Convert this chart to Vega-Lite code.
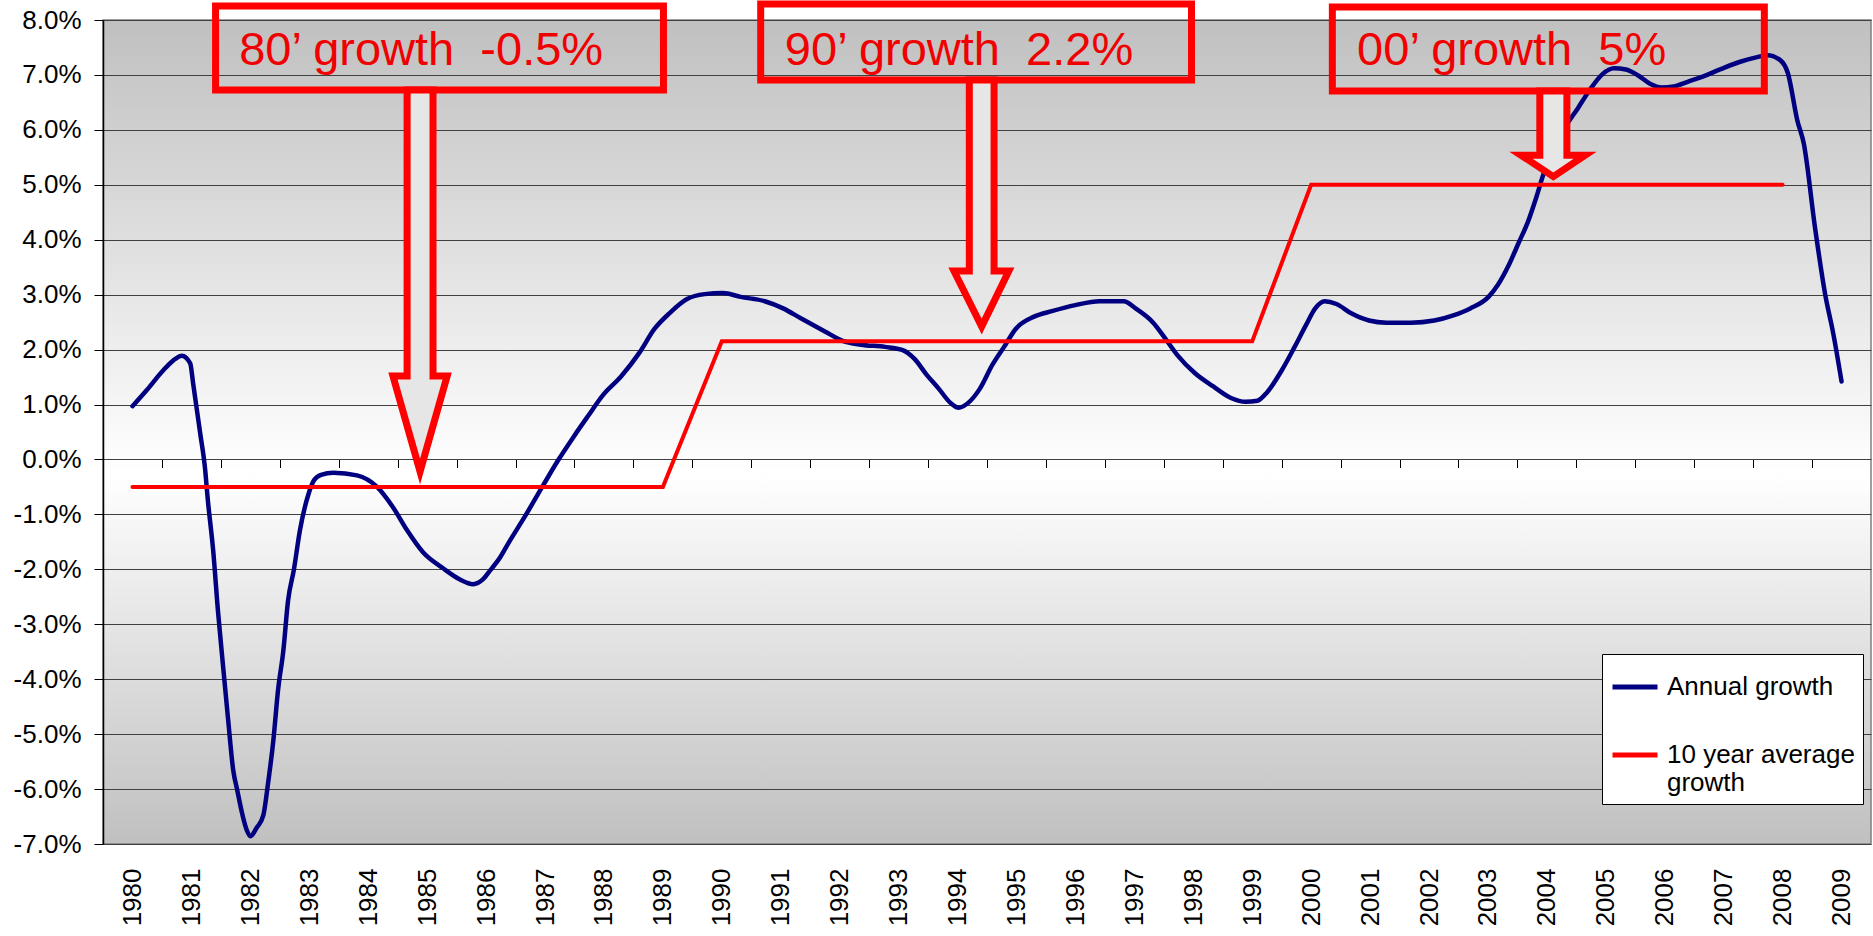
{
  "$schema": "https://vega.github.io/schema/vega-lite/v6.json",
  "width": 1768,
  "height": 824,
  "autosize": {"type": "none"},
  "padding": {"left": 103, "top": 20, "right": 2, "bottom": 92},
  "background": "#ffffff",
  "view": {
    "fill": {"gradient": "linear", "x1": 0, "y1": 0, "x2": 0, "y2": 1,
      "stops": [{"offset": 0, "color": "#c0c0c0"}, {"offset": 0.55, "color": "#ffffff"}, {"offset": 1, "color": "#c0c0c0"}]},
    "stroke": "#808080",
    "strokeWidth": 1.5
  },
  "config": {
    "font": "Liberation Sans",
    "axisY": {"labelFontSize": 26, "labelColor": "#000000", "tickSize": 9, "tickColor": "#000000", "tickWidth": 1,
      "labelPadding": 13, "domainColor": "#000000", "domainWidth": 1.5, "grid": true, "gridColor": "#404040",
      "gridWidth": 1, "title": null, "labelOverlap": false}
  },
  "datasets": {
    "series": [
      {"s": "Annual growth", "year": 1980.00, "v": 0.97},
      {"s": "Annual growth", "year": 1980.24, "v": 1.26},
      {"s": "Annual growth", "year": 1980.52, "v": 1.62},
      {"s": "Annual growth", "year": 1980.69, "v": 1.80},
      {"s": "Annual growth", "year": 1980.84, "v": 1.89},
      {"s": "Annual growth", "year": 1980.98, "v": 1.75},
      {"s": "Annual growth", "year": 1981.03, "v": 1.38},
      {"s": "Annual growth", "year": 1981.10, "v": 0.85},
      {"s": "Annual growth", "year": 1981.15, "v": 0.47},
      {"s": "Annual growth", "year": 1981.23, "v": -0.15},
      {"s": "Annual growth", "year": 1981.28, "v": -0.75},
      {"s": "Annual growth", "year": 1981.37, "v": -1.66},
      {"s": "Annual growth", "year": 1981.45, "v": -2.75},
      {"s": "Annual growth", "year": 1981.54, "v": -3.79},
      {"s": "Annual growth", "year": 1981.62, "v": -4.70},
      {"s": "Annual growth", "year": 1981.71, "v": -5.66},
      {"s": "Annual growth", "year": 1981.78, "v": -6.03},
      {"s": "Annual growth", "year": 1981.86, "v": -6.44},
      {"s": "Annual growth", "year": 1981.94, "v": -6.75},
      {"s": "Annual growth", "year": 1982.00, "v": -6.86},
      {"s": "Annual growth", "year": 1982.11, "v": -6.70},
      {"s": "Annual growth", "year": 1982.22, "v": -6.48},
      {"s": "Annual growth", "year": 1982.30, "v": -5.90},
      {"s": "Annual growth", "year": 1982.39, "v": -5.12},
      {"s": "Annual growth", "year": 1982.47, "v": -4.20},
      {"s": "Annual growth", "year": 1982.56, "v": -3.48},
      {"s": "Annual growth", "year": 1982.64, "v": -2.57},
      {"s": "Annual growth", "year": 1982.74, "v": -2.00},
      {"s": "Annual growth", "year": 1982.84, "v": -1.30},
      {"s": "Annual growth", "year": 1982.99, "v": -0.62},
      {"s": "Annual growth", "year": 1983.08, "v": -0.38},
      {"s": "Annual growth", "year": 1983.20, "v": -0.28},
      {"s": "Annual growth", "year": 1983.41, "v": -0.24},
      {"s": "Annual growth", "year": 1983.81, "v": -0.29},
      {"s": "Annual growth", "year": 1984.15, "v": -0.50},
      {"s": "Annual growth", "year": 1984.42, "v": -0.87},
      {"s": "Annual growth", "year": 1984.66, "v": -1.29},
      {"s": "Annual growth", "year": 1984.93, "v": -1.69},
      {"s": "Annual growth", "year": 1985.27, "v": -1.98},
      {"s": "Annual growth", "year": 1985.55, "v": -2.18},
      {"s": "Annual growth", "year": 1985.78, "v": -2.27},
      {"s": "Annual growth", "year": 1985.95, "v": -2.18},
      {"s": "Annual growth", "year": 1986.07, "v": -2.02},
      {"s": "Annual growth", "year": 1986.24, "v": -1.78},
      {"s": "Annual growth", "year": 1986.37, "v": -1.54},
      {"s": "Annual growth", "year": 1986.68, "v": -1.00},
      {"s": "Annual growth", "year": 1986.98, "v": -0.45},
      {"s": "Annual growth", "year": 1987.22, "v": -0.02},
      {"s": "Annual growth", "year": 1987.49, "v": 0.42},
      {"s": "Annual growth", "year": 1987.73, "v": 0.79},
      {"s": "Annual growth", "year": 1987.99, "v": 1.18},
      {"s": "Annual growth", "year": 1988.29, "v": 1.51},
      {"s": "Annual growth", "year": 1988.60, "v": 1.94},
      {"s": "Annual growth", "year": 1988.86, "v": 2.38},
      {"s": "Annual growth", "year": 1989.11, "v": 2.66},
      {"s": "Annual growth", "year": 1989.41, "v": 2.92},
      {"s": "Annual growth", "year": 1989.71, "v": 3.01},
      {"s": "Annual growth", "year": 1990.02, "v": 3.03},
      {"s": "Annual growth", "year": 1990.32, "v": 2.96},
      {"s": "Annual growth", "year": 1990.73, "v": 2.88},
      {"s": "Annual growth", "year": 1991.04, "v": 2.75},
      {"s": "Annual growth", "year": 1991.34, "v": 2.57},
      {"s": "Annual growth", "year": 1991.75, "v": 2.33},
      {"s": "Annual growth", "year": 1992.05, "v": 2.16},
      {"s": "Annual growth", "year": 1992.36, "v": 2.09},
      {"s": "Annual growth", "year": 1992.77, "v": 2.05},
      {"s": "Annual growth", "year": 1993.07, "v": 1.99},
      {"s": "Annual growth", "year": 1993.27, "v": 1.83},
      {"s": "Annual growth", "year": 1993.47, "v": 1.55},
      {"s": "Annual growth", "year": 1993.68, "v": 1.29},
      {"s": "Annual growth", "year": 1993.88, "v": 1.03},
      {"s": "Annual growth", "year": 1994.02, "v": 0.94},
      {"s": "Annual growth", "year": 1994.18, "v": 1.03},
      {"s": "Annual growth", "year": 1994.38, "v": 1.29},
      {"s": "Annual growth", "year": 1994.59, "v": 1.72},
      {"s": "Annual growth", "year": 1994.79, "v": 2.05},
      {"s": "Annual growth", "year": 1994.99, "v": 2.38},
      {"s": "Annual growth", "year": 1995.30, "v": 2.60},
      {"s": "Annual growth", "year": 1995.60, "v": 2.70},
      {"s": "Annual growth", "year": 1996.00, "v": 2.81},
      {"s": "Annual growth", "year": 1996.41, "v": 2.88},
      {"s": "Annual growth", "year": 1996.82, "v": 2.88},
      {"s": "Annual growth", "year": 1997.02, "v": 2.75},
      {"s": "Annual growth", "year": 1997.32, "v": 2.49},
      {"s": "Annual growth", "year": 1997.52, "v": 2.21},
      {"s": "Annual growth", "year": 1997.73, "v": 1.90},
      {"s": "Annual growth", "year": 1998.03, "v": 1.57},
      {"s": "Annual growth", "year": 1998.34, "v": 1.33},
      {"s": "Annual growth", "year": 1998.64, "v": 1.12},
      {"s": "Annual growth", "year": 1998.89, "v": 1.05},
      {"s": "Annual growth", "year": 1999.09, "v": 1.07},
      {"s": "Annual growth", "year": 1999.25, "v": 1.22},
      {"s": "Annual growth", "year": 1999.50, "v": 1.62},
      {"s": "Annual growth", "year": 1999.72, "v": 2.05},
      {"s": "Annual growth", "year": 1999.91, "v": 2.44},
      {"s": "Annual growth", "year": 2000.07, "v": 2.75},
      {"s": "Annual growth", "year": 2000.23, "v": 2.88},
      {"s": "Annual growth", "year": 2000.43, "v": 2.83},
      {"s": "Annual growth", "year": 2000.68, "v": 2.66},
      {"s": "Annual growth", "year": 2000.98, "v": 2.53},
      {"s": "Annual growth", "year": 2001.28, "v": 2.49},
      {"s": "Annual growth", "year": 2001.69, "v": 2.49},
      {"s": "Annual growth", "year": 2002.09, "v": 2.53},
      {"s": "Annual growth", "year": 2002.40, "v": 2.62},
      {"s": "Annual growth", "year": 2002.70, "v": 2.75},
      {"s": "Annual growth", "year": 2003.01, "v": 2.96},
      {"s": "Annual growth", "year": 2003.17, "v": 3.18},
      {"s": "Annual growth", "year": 2003.35, "v": 3.53},
      {"s": "Annual growth", "year": 2003.52, "v": 3.94},
      {"s": "Annual growth", "year": 2003.68, "v": 4.33},
      {"s": "Annual growth", "year": 2003.82, "v": 4.77},
      {"s": "Annual growth", "year": 2003.96, "v": 5.25},
      {"s": "Annual growth", "year": 2004.12, "v": 5.64},
      {"s": "Annual growth", "year": 2004.29, "v": 6.01},
      {"s": "Annual growth", "year": 2004.53, "v": 6.40},
      {"s": "Annual growth", "year": 2004.73, "v": 6.73},
      {"s": "Annual growth", "year": 2004.94, "v": 7.01},
      {"s": "Annual growth", "year": 2005.14, "v": 7.12},
      {"s": "Annual growth", "year": 2005.34, "v": 7.10},
      {"s": "Annual growth", "year": 2005.55, "v": 6.99},
      {"s": "Annual growth", "year": 2005.75, "v": 6.84},
      {"s": "Annual growth", "year": 2005.95, "v": 6.77},
      {"s": "Annual growth", "year": 2006.15, "v": 6.79},
      {"s": "Annual growth", "year": 2006.40, "v": 6.88},
      {"s": "Annual growth", "year": 2006.62, "v": 6.96},
      {"s": "Annual growth", "year": 2006.94, "v": 7.10},
      {"s": "Annual growth", "year": 2007.28, "v": 7.24},
      {"s": "Annual growth", "year": 2007.55, "v": 7.32},
      {"s": "Annual growth", "year": 2007.74, "v": 7.36},
      {"s": "Annual growth", "year": 2007.96, "v": 7.27},
      {"s": "Annual growth", "year": 2008.09, "v": 7.03},
      {"s": "Annual growth", "year": 2008.25, "v": 6.17},
      {"s": "Annual growth", "year": 2008.36, "v": 5.75},
      {"s": "Annual growth", "year": 2008.55, "v": 4.22},
      {"s": "Annual growth", "year": 2008.72, "v": 3.02},
      {"s": "Annual growth", "year": 2008.86, "v": 2.29},
      {"s": "Annual growth", "year": 2009.00, "v": 1.42},
      {"s": "10 year average growth", "year": 1980, "v": -0.5},
      {"s": "10 year average growth", "year": 1981, "v": -0.5},
      {"s": "10 year average growth", "year": 1982, "v": -0.5},
      {"s": "10 year average growth", "year": 1983, "v": -0.5},
      {"s": "10 year average growth", "year": 1984, "v": -0.5},
      {"s": "10 year average growth", "year": 1985, "v": -0.5},
      {"s": "10 year average growth", "year": 1986, "v": -0.5},
      {"s": "10 year average growth", "year": 1987, "v": -0.5},
      {"s": "10 year average growth", "year": 1988, "v": -0.5},
      {"s": "10 year average growth", "year": 1989, "v": -0.5},
      {"s": "10 year average growth", "year": 1990, "v": 2.15},
      {"s": "10 year average growth", "year": 1991, "v": 2.15},
      {"s": "10 year average growth", "year": 1992, "v": 2.15},
      {"s": "10 year average growth", "year": 1993, "v": 2.15},
      {"s": "10 year average growth", "year": 1994, "v": 2.15},
      {"s": "10 year average growth", "year": 1995, "v": 2.15},
      {"s": "10 year average growth", "year": 1996, "v": 2.15},
      {"s": "10 year average growth", "year": 1997, "v": 2.15},
      {"s": "10 year average growth", "year": 1998, "v": 2.15},
      {"s": "10 year average growth", "year": 1999, "v": 2.15},
      {"s": "10 year average growth", "year": 2000, "v": 5.0},
      {"s": "10 year average growth", "year": 2001, "v": 5.0},
      {"s": "10 year average growth", "year": 2002, "v": 5.0},
      {"s": "10 year average growth", "year": 2003, "v": 5.0},
      {"s": "10 year average growth", "year": 2004, "v": 5.0},
      {"s": "10 year average growth", "year": 2005, "v": 5.0},
      {"s": "10 year average growth", "year": 2006, "v": 5.0},
      {"s": "10 year average growth", "year": 2007, "v": 5.0},
      {"s": "10 year average growth", "year": 2008, "v": 5.0}
    ]
  },
  "data": {"name": "series"},
  "resolve": {"axis": {"x": "independent"}},
  "layer": [
    {
      "transform": [{"filter": "datum.s == 'Annual growth'"}],
      "mark": {"type": "line", "interpolate": "monotone", "strokeWidth": 4.5, "strokeCap": "round", "strokeJoin": "round"},
      "encoding": {
        "x": {"field": "year", "type": "quantitative",
          "scale": {"domain": [1979.5, 2009.5], "nice": false, "zero": false},
          "axis": {"orient": "bottom", "values": [1980,1981,1982,1983,1984,1985,1986,1987,1988,1989,1990,1991,1992,1993,1994,1995,1996,1997,1998,1999,2000,2001,2002,2003,2004,2005,2006,2007,2008,2009],
            "format": "d", "labelAngle": -90, "labelFontSize": 26, "labelColor": "#000000", "ticks": false, "tickSize": 0,
            "domain": false, "grid": false, "labelPadding": 24, "title": null, "labelOverlap": false}},
        "y": {"field": "v", "type": "quantitative",
          "scale": {"domain": [-7, 8], "nice": false, "zero": false},
          "axis": {"values": [-7,-6,-5,-4,-3,-2,-1,0,1,2,3,4,5,6,7,8],
            "labelExpr": "replace(format(datum.value, '.1f'), '−', '-') + '%'",
            "labelFontSize": 26, "labelColor": "#000000", "tickSize": 9, "tickColor": "#000000", "tickWidth": 1,
            "labelPadding": 13, "domainColor": "#000000", "domainWidth": 1.5, "grid": true, "gridColor": "#404040",
            "gridWidth": 1, "title": null, "labelOverlap": false}},
        "color": {"field": "s", "type": "nominal",
          "scale": {"domain": ["Annual growth", "10 year average growth"], "range": ["#000080", "#ff0000"]},
          "legend": {"title": null, "orient": "none", "legendX": 1499, "legendY": 634,
            "fillColor": "#ffffff", "strokeColor": "#000000", "padding": 8, "labelFontSize": 26, "labelColor": "#000000",
            "symbolType": "stroke", "symbolSize": 2025, "symbolStrokeWidth": 5, "labelOffset": 7, "rowPadding": 30,
            "labelLimit": 400,
            "labelExpr": "datum.label == '10 year average growth' ? ['10 year average', 'growth'] : datum.label"}}
      }
    },
    {
      "transform": [{"filter": "datum.s == '10 year average growth'"}],
      "mark": {"type": "line", "strokeWidth": 4, "strokeCap": "round"},
      "encoding": {
        "x": {"field": "year", "type": "quantitative",
          "scale": {"domain": [1979.5, 2009.5], "nice": false, "zero": false},
          "axis": {"orient": "bottom", "offset": -384.5,
            "values": [1980.5,1981.5,1982.5,1983.5,1984.5,1985.5,1986.5,1987.5,1988.5,1989.5,1990.5,1991.5,1992.5,1993.5,1994.5,1995.5,1996.5,1997.5,1998.5,1999.5,2000.5,2001.5,2002.5,2003.5,2004.5,2005.5,2006.5,2007.5,2008.5],
            "labels": false, "domain": false, "grid": false, "ticks": true, "tickSize": 8, "tickColor": "#000000", "tickWidth": 1, "title": null}},
        "y": {"field": "v", "type": "quantitative", "scale": {"domain": [-7, 8], "nice": false, "zero": false}},
        "color": {"field": "s", "type": "nominal",
          "scale": {"domain": ["Annual growth", "10 year average growth"], "range": ["#000080", "#ff0000"]}}
      }
    },
    {
      "data": {"values": [
        {"name": "80s", "bx": 1981.41, "bx2": 1989.01, "by": 8.256, "by2": 6.727},
        {"name": "90s", "bx": 1990.66, "bx2": 1997.97, "by": 8.292, "by2": 6.909},
        {"name": "00s", "bx": 2000.36, "bx2": 2007.69, "by": 8.238, "by2": 6.709}
      ]},
      "mark": {"type": "rect", "fill": "transparent", "stroke": "#ff0000", "strokeWidth": 7, "strokeJoin": "miter"},
      "encoding": {
        "x": {"field": "bx", "type": "quantitative", "scale": {"domain": [1979.5, 2009.5], "nice": false, "zero": false}, "axis": null},
        "x2": {"field": "bx2"},
        "y": {"field": "by", "type": "quantitative", "scale": {"domain": [-7, 8], "nice": false, "zero": false}},
        "y2": {"field": "by2"}
      }
    },
    {
      "data": {"values": [
        {"arrow": "80s", "k": 1, "ax": 1984.66, "ay": 6.727},
        {"arrow": "80s", "k": 2, "ax": 1984.66, "ay": 1.52},
        {"arrow": "80s", "k": 3, "ax": 1984.42, "ay": 1.52},
        {"arrow": "80s", "k": 4, "ax": 1984.88, "ay": -0.22},
        {"arrow": "80s", "k": 5, "ax": 1985.34, "ay": 1.52},
        {"arrow": "80s", "k": 6, "ax": 1985.10, "ay": 1.52},
        {"arrow": "80s", "k": 7, "ax": 1985.10, "ay": 6.727},
        {"arrow": "90s", "k": 1, "ax": 1994.20, "ay": 6.909},
        {"arrow": "90s", "k": 2, "ax": 1994.20, "ay": 3.43},
        {"arrow": "90s", "k": 3, "ax": 1993.94, "ay": 3.43},
        {"arrow": "90s", "k": 4, "ax": 1994.41, "ay": 2.42},
        {"arrow": "90s", "k": 5, "ax": 1994.87, "ay": 3.43},
        {"arrow": "90s", "k": 6, "ax": 1994.62, "ay": 3.43},
        {"arrow": "90s", "k": 7, "ax": 1994.62, "ay": 6.909},
        {"arrow": "00s", "k": 1, "ax": 2003.88, "ay": 6.709},
        {"arrow": "00s", "k": 2, "ax": 2003.88, "ay": 5.54},
        {"arrow": "00s", "k": 3, "ax": 2003.56, "ay": 5.54},
        {"arrow": "00s", "k": 4, "ax": 2004.11, "ay": 5.15},
        {"arrow": "00s", "k": 5, "ax": 2004.65, "ay": 5.54},
        {"arrow": "00s", "k": 6, "ax": 2004.34, "ay": 5.54},
        {"arrow": "00s", "k": 7, "ax": 2004.34, "ay": 6.709}
      ]},
      "mark": {"type": "line", "interpolate": "linear-closed", "fill": "#e6e6e6", "stroke": "#ff0000", "strokeWidth": 7, "strokeJoin": "miter", "strokeMiterLimit": 20},
      "encoding": {
        "x": {"field": "ax", "type": "quantitative", "scale": {"domain": [1979.5, 2009.5], "nice": false, "zero": false}, "axis": null},
        "y": {"field": "ay", "type": "quantitative", "scale": {"domain": [-7, 8], "nice": false, "zero": false}},
        "detail": {"field": "arrow", "type": "nominal"},
        "order": {"field": "k", "type": "quantitative"}
      }
    },
    {
      "data": {"values": [
        {"tx": 1981.81, "ty": 7.173, "label": "80’ growth\u00a0 -0.5%"},
        {"tx": 1991.07, "ty": 7.173, "label": "90’ growth\u00a0 2.2%"},
        {"tx": 2000.78, "ty": 7.173, "label": "00’ growth\u00a0 5%"}
      ]},
      "mark": {"type": "text", "align": "left", "baseline": "alphabetic", "fontSize": 47, "color": "#f00000"},
      "encoding": {
        "x": {"field": "tx", "type": "quantitative", "scale": {"domain": [1979.5, 2009.5], "nice": false, "zero": false}, "axis": null},
        "y": {"field": "ty", "type": "quantitative", "scale": {"domain": [-7, 8], "nice": false, "zero": false}},
        "text": {"field": "label"}
      }
    }
  ]
}
